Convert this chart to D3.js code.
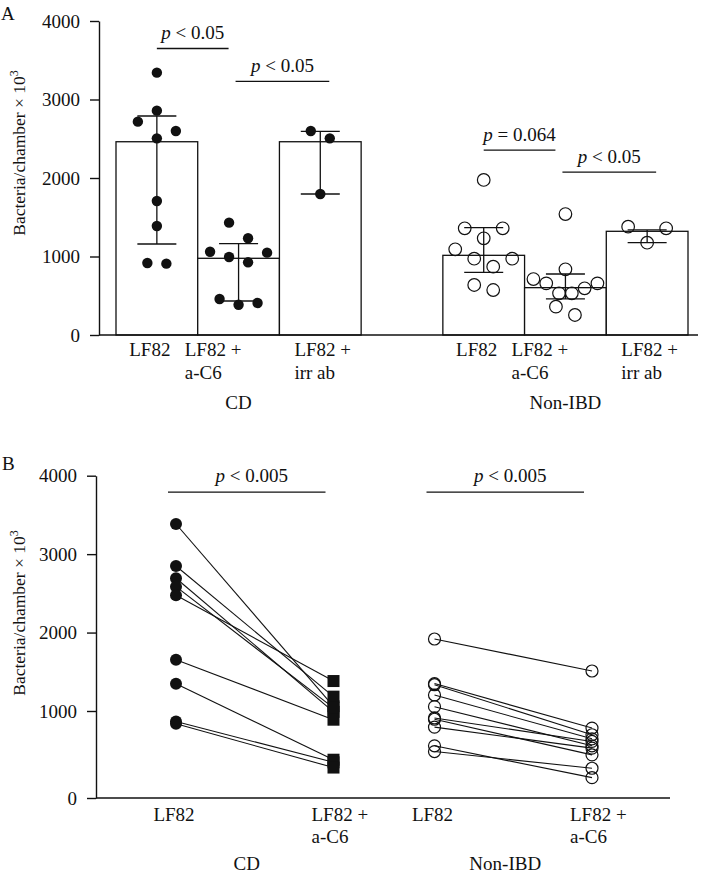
<!DOCTYPE html>
<html><head><meta charset="utf-8">
<script src="https://cdn.jsdelivr.net/npm/d3@7"></script>
<style>
body{margin:0;background:#fff}
svg text{font-family:"Liberation Serif","Times New Roman",serif;font-size:19px;fill:#111}
</style>
</head><body><svg id="c" width="704" height="877"></svg>
<script>
// ---------- data ----------
const groups = ["CD", "Non-IBD"];
const treatmentsA = ["LF82", "LF82 + a-C6", "LF82 + irr ab"];
const treatmentLinesA = [["LF82"], ["LF82 +", "a-C6"], ["LF82 +", "irr ab"]];
const treatmentsB = ["LF82", "LF82 + a-C6"];
const treatmentLinesB = [["LF82"], ["LF82 +", "a-C6"]];
const yTicks = [0, 1000, 2000, 3000, 4000];
const yTitle = "Bacteria/chamber × 10";
const yTitleSup = "3";

// Panel A: bar heights (mean) and error bar limits
const cdMeanA = [2462, 977, 2462];
const cdLowA = [1159, 433, 1796];
const cdHighA = [2790, 1163, 2595];
const nonMeanA = [1015, 603, 1321];
const nonLowA = [799, 459, 1176];
const nonHighA = [1367, 777, 1338];

// Panel A: individual points
const cdLF82A = [3342, 2858, 2718, 2599, 2505, 1707, 1389, 917, 909];
const cdAC6A = [1431, 1232, 1061, 1049, 994, 926, 459, 408, 386];
const cdIrrA = [2599, 2505, 1796];
const nonLF82A = [1975, 1359, 1359, 1232, 1092, 972, 972, 870, 637, 573];
const nonAC6A = [1541, 837, 713, 658, 658, 595, 531, 531, 361, 255];
const nonIrrA = [1380, 1359, 1176];

// Panel A: significance brackets (height in data units)
const compGroupA = ["CD", "CD", "Non-IBD", "Non-IBD"];
const compFromA = [0, 1, 0, 1];
const compToA = [1, 2, 1, 2];
const compTextA = ["< 0.05", "< 0.05", "= 0.064", "< 0.05"];
const compLevelA = [3650, 3230, 2355, 2075];

// Panel B: paired values (same order = same sample)
const cdLF82B = [3384, 2849, 2692, 2585, 2475, 1654, 1348, 880, 853];
const cdAC6B = [1060, 1183, 990, 1040, 1382, 900, 440, 410, 350];
const nonLF82B = [1918, 1350, 1335, 1204, 1055, 920, 905, 815, 600, 534];
const nonAC6B = [1510, 804, 727, 680, 600, 650, 496, 573, 234, 342];
const compTextB = ["< 0.005", "< 0.005"];
const compLevelB = [3790, 3790];

// ---------- drawing ----------
const svg = d3.select("#c");
const ink = "#111";

function pText(sel, rest) {
  sel.append("tspan").attr("font-style", "italic").text("p");
  sel.append("tspan").text(" " + rest);
}

function swarm(values, yScale, H, step, maxSpan) {
  const pts = values.map((v, i) => ({v, i, py: yScale(v)})).sort((a, b) => a.v - b.v);
  const out = new Array(values.length).fill(0);
  let row = [];
  const flush = () => {
    const n = row.length;
    const s = n > 1 ? Math.min(step, maxSpan / (n - 1)) : 0;
    row.forEach((p, k) => {
      let slot;
      if (n % 2 === 1) slot = k === 0 ? 0 : (k % 2 === 1 ? (k + 1) / 2 : -k / 2);
      else { const m = Math.floor(k / 2); slot = (k % 2 === 0 ? 1 : -1) * (m + 0.5); }
      out[p.i] = slot * s;
    });
    row = [];
  };
  pts.forEach(p => { if (row.length && Math.abs(p.py - row[0].py) > H) flush(); row.push(p); });
  flush();
  return out;
}

function yTitleText(g, x, y) {
  const t = g.append("text").attr("transform", `translate(${x},${y}) rotate(-90)`)
    .attr("text-anchor", "middle").style("font-size", "17.5px");
  t.append("tspan").text(yTitle);
  t.append("tspan").attr("dy", -7).style("font-size", "12px").text(yTitleSup);
}

// ===== Panel A =====
const gA = svg.append("g");
const yA = d3.scaleLinear().domain([0, 4000]).range([335, 21]);
const slots = ["CD|0", "CD|1", "CD|2", "gap", "Non-IBD|0", "Non-IBD|1", "Non-IBD|2"];
const xA = d3.scaleBand().domain(slots).range([116, 688]).padding(0);
const bw = xA.bandwidth();
const cen = (g, i) => xA(g + "|" + i) + bw / 2;

const barData = [];
const means = {"CD": cdMeanA, "Non-IBD": nonMeanA};
const lows = {"CD": cdLowA, "Non-IBD": nonLowA};
const highs = {"CD": cdHighA, "Non-IBD": nonHighA};
const pointsA = {"CD": [cdLF82A, cdAC6A, cdIrrA], "Non-IBD": [nonLF82A, nonAC6A, nonIrrA]};
groups.forEach(g => treatmentsA.forEach((t, i) => barData.push({g, i, mean: means[g][i], lo: lows[g][i], hi: highs[g][i], pts: pointsA[g][i]})));

gA.selectAll("rect.bar").data(barData).join("rect")
  .attr("x", d => xA(d.g + "|" + d.i)).attr("width", bw)
  .attr("y", d => yA(d.mean)).attr("height", d => yA(0) - yA(d.mean))
  .attr("fill", "#fff").attr("stroke", ink).attr("stroke-width", 1.3);

// error bars
barData.forEach(d => {
  const cx = cen(d.g, d.i);
  gA.append("line").attr("x1", cx).attr("x2", cx).attr("y1", yA(d.lo)).attr("y2", yA(d.hi))
    .attr("stroke", ink).attr("stroke-width", 1.3);
  [d.lo, d.hi].forEach(v => gA.append("line").attr("x1", cx - 19.5).attr("x2", cx + 19.5)
    .attr("y1", yA(v)).attr("y2", yA(v)).attr("stroke", ink).attr("stroke-width", 1.3));
});

// points
barData.forEach(d => {
  const cx = cen(d.g, d.i);
  const off = swarm(d.pts, yA, 18, 19, 64);
  const filled = d.g === "CD";
  gA.selectAll(null).data(d.pts).join("circle")
    .attr("cx", (v, k) => cx + off[k]).attr("cy", v => yA(v))
    .attr("r", filled ? 5.2 : 6.3)
    .attr("fill", filled ? ink : "none").attr("stroke", ink).attr("stroke-width", filled ? 0 : 1.2);
});

// axes
const axA = gA.append("g").attr("transform", "translate(99,0)")
  .call(d3.axisLeft(yA).tickValues(yTicks).tickSize(9).tickSizeOuter(0).tickPadding(10).tickFormat(d3.format("d")));
axA.select(".domain").attr("stroke", ink).attr("stroke-width", 1.4);
axA.selectAll(".tick line").attr("stroke", ink).attr("stroke-width", 1.4);
axA.selectAll(".tick text").attr("fill", ink).attr("dy", "0.33em");
gA.append("line").attr("x1", 99).attr("x2", 698).attr("y1", yA(0)).attr("y2", yA(0))
  .attr("stroke", ink).attr("stroke-width", 1.4);

// category labels
groups.forEach(g => {
  treatmentLinesA.forEach((lines, i) => {
    const x0 = xA(g + "|" + i);
    const anchorX = i === 0 ? x0 + bw / 2 - 7 : (i === 1 ? x0 - 13 : x0 + 15);
    const t = gA.append("text").attr("text-anchor", i === 0 ? "middle" : "start");
    lines.forEach((ln, k) => t.append("tspan").attr("x", anchorX).attr("y", 356 + 23 * k).text(ln));
  });
  const gc = (xA(g + "|0") + xA(g + "|2") + bw) / 2;
  gA.append("text").attr("x", gc).attr("y", 409).attr("text-anchor", "middle").text(g);
});

// significance
compGroupA.forEach((g, k) => {
  const f = compFromA[k], t = compToA[k];
  const x1 = cen(g, f) + (f === 0 ? 0 : -3);
  const x2 = cen(g, t) + (t === 1 ? -10 : 9);
  const yy = yA(compLevelA[k]);
  gA.append("line").attr("x1", x1).attr("x2", x2).attr("y1", yy).attr("y2", yy)
    .attr("stroke", ink).attr("stroke-width", 1.3);
  const tx = gA.append("text").attr("x", (x1 + x2) / 2).attr("y", yy - 9).attr("text-anchor", "middle");
  pText(tx, compTextA[k]);
});

yTitleText(gA, 25, 153);
gA.append("text").attr("x", 1).attr("y", 20).text("A");

// ===== Panel B =====
const gB = svg.append("g");
const yB = d3.scaleLinear().domain([0, 1000, 4000]).range([798, 711, 475.7]);
const xG = d3.scalePoint().domain(groups).range([254.5, 513]);
const xT = d3.scalePoint().domain(treatmentsB).range([-78.5, 79]);
const px = (g, t) => xG(g) + xT(t);

const pairs = [];
cdLF82B.forEach((v, i) => pairs.push({g: "CD", a: v, b: cdAC6B[i]}));
nonLF82B.forEach((v, i) => pairs.push({g: "Non-IBD", a: v, b: nonAC6B[i]}));

gB.selectAll("line.pair").data(pairs).join("line")
  .attr("x1", d => px(d.g, "LF82")).attr("x2", d => px(d.g, "LF82 + a-C6"))
  .attr("y1", d => yB(d.a)).attr("y2", d => yB(d.b))
  .attr("stroke", ink).attr("stroke-width", 1.1);

// markers
gB.selectAll(null).data(cdLF82B).join("circle")
  .attr("cx", px("CD", "LF82")).attr("cy", v => yB(v)).attr("r", 6).attr("fill", ink);
gB.selectAll(null).data(cdAC6B).join("rect")
  .attr("x", px("CD", "LF82 + a-C6") - 6).attr("y", v => yB(v) - 6)
  .attr("width", 12).attr("height", 12).attr("fill", ink);
gB.selectAll(null).data(nonLF82B).join("circle")
  .attr("cx", px("Non-IBD", "LF82")).attr("cy", v => yB(v)).attr("r", 6)
  .attr("fill", "none").attr("stroke", ink).attr("stroke-width", 1.2);
gB.selectAll(null).data(nonAC6B).join("circle")
  .attr("cx", px("Non-IBD", "LF82 + a-C6")).attr("cy", v => yB(v)).attr("r", 6)
  .attr("fill", "none").attr("stroke", ink).attr("stroke-width", 1.2);

// axes
const axB = gB.append("g").attr("transform", "translate(96,0)")
  .call(d3.axisLeft(yB).tickValues(yTicks).tickSize(9).tickSizeOuter(0).tickPadding(10).tickFormat(d3.format("d")));
axB.select(".domain").attr("stroke", ink).attr("stroke-width", 1.4);
axB.selectAll(".tick line").attr("stroke", ink).attr("stroke-width", 1.4);
axB.selectAll(".tick text").attr("fill", ink).attr("dy", "0.33em");
gB.append("line").attr("x1", 96).attr("x2", 670).attr("y1", yB(0)).attr("y2", yB(0))
  .attr("stroke", ink).attr("stroke-width", 1.4);

groups.forEach((g, gi) => {
  treatmentLinesB.forEach((lines, i) => {
    const p = px(g, treatmentsB[i]);
    const anchorX = i === 0 ? p - 2 : p - 22;
    const t = gB.append("text").attr("text-anchor", i === 0 ? "middle" : "start");
    lines.forEach((ln, k) => t.append("tspan").attr("x", anchorX).attr("y", 821 + 22 * k).text(ln));
  });
  const x1 = px(g, "LF82") - 8, x2 = px(g, "LF82 + a-C6") - 8;
  const yy = yB(compLevelB[gi]);
  gB.append("line").attr("x1", x1).attr("x2", x2).attr("y1", yy).attr("y2", yy)
    .attr("stroke", ink).attr("stroke-width", 1.3);
  const tx = gB.append("text").attr("x", (x1 + x2) / 2 + 5).attr("y", yy - 10).attr("text-anchor", "middle");
  pText(tx, compTextB[gi]);
  gB.append("text").attr("x", (x1 + x2) / 2).attr("y", 870).attr("text-anchor", "middle").text(g);
});

yTitleText(gB, 25, 613);
gB.append("text").attr("x", 2).attr("y", 470).text("B");
</script>
</body></html>
